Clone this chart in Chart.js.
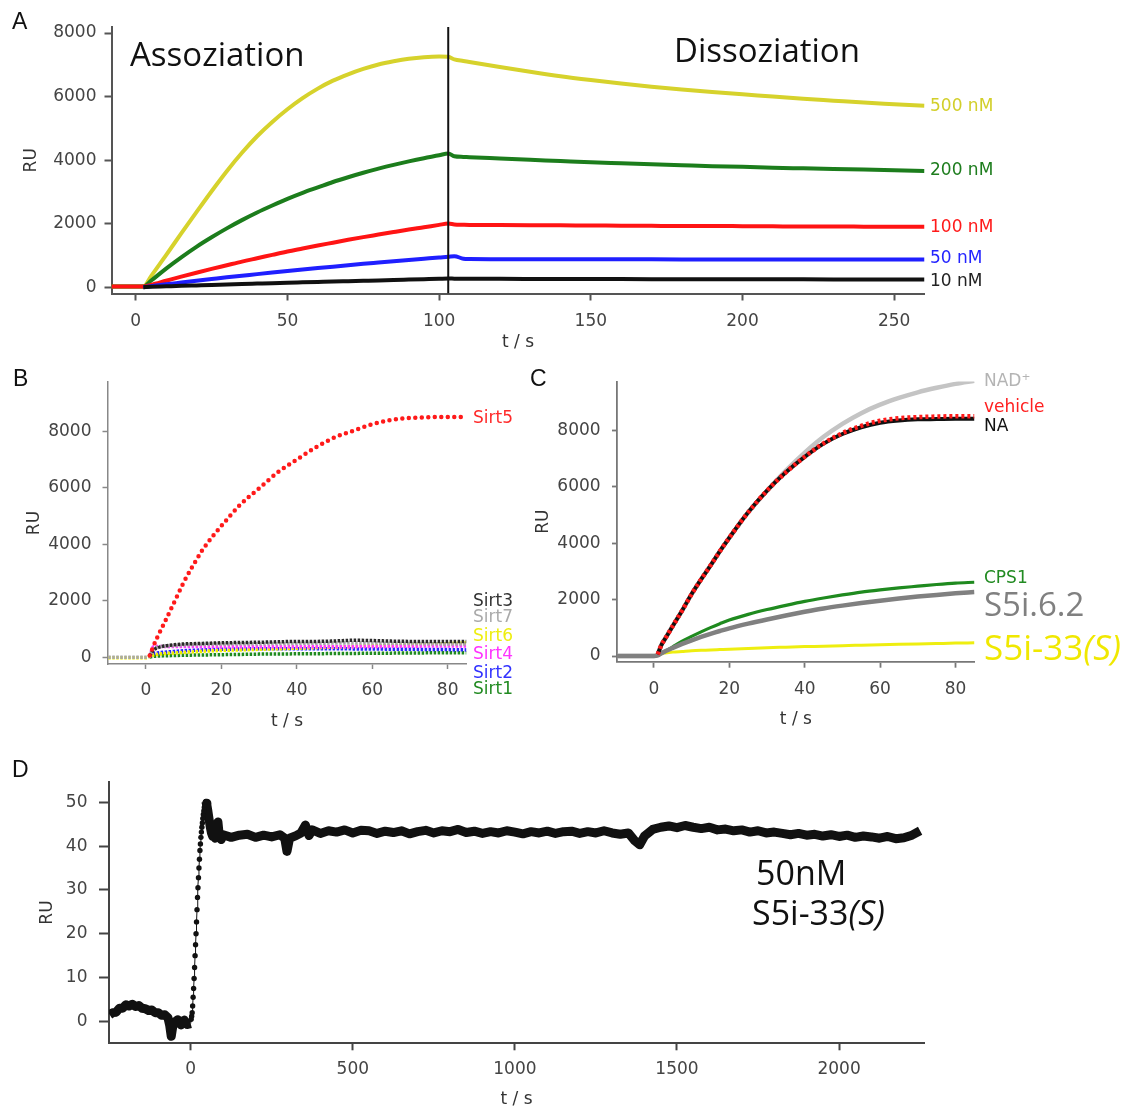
<!DOCTYPE html>
<html><head><meta charset="utf-8">
<script src="https://cdn.jsdelivr.net/npm/chart.js@4.4.1/dist/chart.umd.min.js"></script>
<style>
html,body{margin:0;padding:0;background:#fff;}
body{width:1129px;height:1110px;position:relative;overflow:hidden;}
canvas{position:absolute;}
.t{position:absolute;white-space:nowrap;line-height:1;}
.sm{font-family:"DejaVu Sans",sans-serif;font-size:17px;}
.big{font-family:"Open Sans",sans-serif;color:#111;}
.pl{font-family:"Liberation Sans",Arial,sans-serif;font-size:23px;color:#111;}
</style></head><body>
<canvas id="cA" width="1129" height="360" style="left:0;top:0"></canvas>
<canvas id="cB" width="530" height="380" style="left:0;top:360px"></canvas>
<canvas id="cC" width="599" height="380" style="left:530px;top:360px"></canvas>
<canvas id="cD" width="1129" height="350" style="left:0;top:760px"></canvas>

<div class="t pl" style="left:12px;top:10px">A</div>
<div class="t pl" style="left:13px;top:367px">B</div>
<div class="t pl" style="left:530px;top:367px">C</div>
<div class="t pl" style="left:12px;top:758px">D</div>

<div class="t big" style="left:130px;top:37px;font-size:33px">Assoziation</div>
<div class="t big" style="left:674px;top:33px;font-size:33px">Dissoziation</div>
<div class="t sm" style="left:930px;top:97px;color:#d2cf2a">500 nM</div>
<div class="t sm" style="left:930px;top:161px;color:#1e7d1e">200 nM</div>
<div class="t sm" style="left:930px;top:218px;color:#ff1a1a">100 nM</div>
<div class="t sm" style="left:930px;top:249px;color:#2424ff">50 nM</div>
<div class="t sm" style="left:930px;top:272px;color:#222">10 nM</div>

<div class="t sm" style="left:473px;top:409px;color:#ff2a2a">Sirt5</div>
<div class="t sm" style="left:473px;top:592px;color:#333">Sirt3</div>
<div class="t sm" style="left:473px;top:608px;color:#aaa">Sirt7</div>
<div class="t sm" style="left:473px;top:627px;color:#eeee10">Sirt6</div>
<div class="t sm" style="left:473px;top:645px;color:#ff33ff">Sirt4</div>
<div class="t sm" style="left:473px;top:664px;color:#3333ff">Sirt2</div>
<div class="t sm" style="left:473px;top:680px;color:#228b22">Sirt1</div>

<div class="t sm" style="left:984px;top:372px;color:#b4b4b4">NAD⁺</div>
<div class="t sm" style="left:984px;top:398px;color:#ff2020">vehicle</div>
<div class="t sm" style="left:984px;top:417px;color:#111">NA</div>
<div class="t sm" style="left:984px;top:569px;color:#228b22">CPS1</div>
<div class="t big" style="left:984px;top:587px;font-size:33px;color:#808080">S5i.6.2</div>
<div class="t big" style="left:984px;top:629px;font-size:35px;color:#f0e800">S5i-33<i>(S)</i></div>

<div class="t big" style="left:756px;top:855px;font-size:34px">50nM</div>
<div class="t big" style="left:752px;top:895px;font-size:34px">S5i-33<i>(S)</i></div>

<script>
// ---------- Panel A: association / dissociation ----------
const tA = [-8, 0, 2.5, 5, 10, 15, 20, 25, 30, 35, 40, 45, 50, 55, 60, 65, 70, 75, 80, 85, 90, 95, 100, 103, 105, 108, 110, 120, 130, 140, 150, 160, 170, 180, 190, 200, 210, 220, 230, 240, 250, 260];
const nM500 = [20, 20, 20, 340, 1010, 1690, 2360, 3020, 3650, 4230, 4750, 5200, 5600, 5950, 6250, 6500, 6700, 6870, 7010, 7110, 7190, 7240, 7260, 7250, 7170, 7120, 7090, 6930, 6780, 6640, 6520, 6410, 6310, 6220, 6140, 6070, 6000, 5930, 5870, 5810, 5760, 5710];
const nM200 = [20, 20, 20, 200, 585, 940, 1270, 1570, 1850, 2110, 2350, 2570, 2780, 2970, 3140, 3310, 3460, 3600, 3730, 3850, 3960, 4060, 4150, 4210, 4120, 4100, 4090, 4050, 4010, 3970, 3930, 3900, 3870, 3840, 3810, 3790, 3760, 3740, 3720, 3700, 3680, 3660];
const nM100 = [20, 20, 20, 70, 200, 330, 455, 575, 690, 805, 910, 1015, 1120, 1215, 1310, 1400, 1490, 1575, 1655, 1735, 1815, 1885, 1960, 2000, 1975, 1965, 1960, 1955, 1950, 1945, 1940, 1935, 1930, 1925, 1925, 1920, 1915, 1910, 1910, 1905, 1900, 1900];
const nM50 = [null, null, 0, 30, 90, 145, 200, 255, 310, 360, 410, 460, 510, 555, 600, 645, 690, 735, 775, 815, 855, 895, 935, 955, 975, 895, 885, 880, 880, 880, 878, 876, 875, 874, 873, 872, 872, 871, 870, 870, 870, 870];
const nM10 = [null, null, 0, 9, 25, 41, 55, 69, 84, 98, 111, 124, 138, 151, 164, 177, 189, 201, 213, 226, 238, 250, 262, 270, 268, 266, 265, 262, 260, 258, 256, 254, 252, 250, 249, 248, 246, 245, 244, 243, 242, 240];
const switchA = [103];
const xTicksA = [0, 50, 100, 150, 200, 250];
const yTicksA = [0, 2000, 4000, 6000, 8000];
const xRangeA = [-8, 260], yRangeA = [-200, 8190];

// ---------- Panel B: sirtuin selectivity ----------
const tB = [-10, 0, 1, 2, 3, 5, 7.5, 10, 12.5, 15, 17.5, 20, 25, 30, 35, 40, 45, 50, 55, 60, 65, 70, 75, 80, 85];
const sirt5 = [null, null, 60, 400, 700, 1250, 1950, 2650, 3250, 3800, 4250, 4650, 5400, 5980, 6550, 7000, 7430, 7780, 8020, 8250, 8400, 8470, 8500, 8510, 8510];
const sirt3 = [null, null, 50, 250, 330, 400, 440, 470, 480, 490, 500, 510, 520, 530, 545, 560, 560, 575, 600, 590, 570, 560, 555, 555, 555];
const sirt7 = [0, 0, 50, 300, 350, 400, 420, 440, 450, 460, 465, 470, 475, 480, 485, 490, 495, 500, 500, 500, 495, 490, 480, 470, 470];
const sirt6 = [-20, -20, 30, 80, 100, 130, 150, 170, 190, 210, 225, 240, 260, 280, 300, 320, 340, 360, 380, 400, 420, 440, 460, 480, 500];
const sirt4 = [null, null, 50, 370, 380, 380, 380, 380, 380, 375, 375, 370, 370, 370, 370, 370, 370, 370, 375, 380, 385, 390, 395, 400, 400];
const sirt2 = [null, null, 30, 130, 150, 180, 205, 230, 245, 260, 270, 280, 290, 300, 300, 300, 300, 300, 295, 290, 285, 280, 275, 270, 260];
const sirt1 = [null, null, 10, 30, 40, 50, 60, 70, 75, 80, 85, 90, 100, 110, 115, 120, 125, 130, 135, 140, 145, 150, 155, 160, 160];
const xTicksB = [0, 20, 40, 60, 80];
const yTicksB = [0, 2000, 4000, 6000, 8000];
const xRangeB = [-10.2, 85], yRangeB = [-240, 9745];

// ---------- Panel C: competition ----------
const tC = [-10, 0, 1, 2, 3, 5, 7.5, 10, 12.5, 15, 17.5, 20, 25, 30, 35, 40, 45, 50, 55, 60, 65, 70, 75, 80, 85];
const vehicle = [null, null, 60, 400, 620, 1070, 1620, 2200, 2720, 3210, 3720, 4200, 5100, 5870, 6520, 7070, 7550, 7910, 8170, 8350, 8440, 8480, 8500, 8510, 8510];
const naC = [null, null, 60, 400, 620, 1070, 1620, 2200, 2720, 3210, 3720, 4200, 5100, 5870, 6520, 7070, 7540, 7880, 8120, 8280, 8360, 8400, 8410, 8420, 8420];
const nadC = [0, 0, 60, 400, 620, 1070, 1620, 2200, 2720, 3210, 3720, 4200, 5100, 5870, 6580, 7220, 7780, 8240, 8620, 8920, 9160, 9360, 9520, 9660, 9770];
const cps1 = [null, null, 20, 100, 170, 330, 530, 700, 860, 1010, 1150, 1280, 1480, 1650, 1800, 1940, 2060, 2170, 2270, 2350, 2420, 2480, 2540, 2590, 2620];
const s5i62 = [0, 0, 20, 100, 170, 290, 430, 560, 680, 790, 890, 985, 1150, 1300, 1440, 1570, 1690, 1790, 1880, 1960, 2040, 2110, 2170, 2225, 2275];
const s5i33 = [null, null, 20, 90, 110, 140, 165, 190, 205, 215, 230, 245, 270, 295, 315, 335, 350, 370, 385, 400, 415, 430, 445, 460, 470];
const xTicksC = [0, 20, 40, 60, 80];
const yTicksC = [0, 2000, 4000, 6000, 8000];
const xRangeC = [-9.8, 85.1], yRangeC = [-200, 9740];

// ---------- Panel D: 50 nM S5i-33(S) long run ----------
const tD = [-250, -240, -230, -220, -210, -200, -190, -180, -170, -160, -150, -140, -130, -120, -110, -100, -90, -80, -70, -65, -60, -55, -50, -40, -30, -20, -10,
  0, 1.5, 3, 4.5, 6, 7.5, 9, 10.5, 12, 13.5, 15, 16.5, 18, 19.5, 21, 22.5, 24, 25.5, 27, 28.5, 30, 31.5, 33, 34.5, 36, 37.5, 39, 40.5, 42, 43.5, 45, 46.5, 48,
  50, 53, 56, 60, 64, 68, 72, 76, 80, 84, 88, 94,
  100, 125, 150, 175, 200, 225, 250, 275, 290, 297, 305, 325, 340, 354, 365, 375, 400, 425, 450, 475, 500, 525, 550, 575, 600, 625, 650, 675, 700, 725, 750, 775, 800, 825, 850, 875, 900, 925, 950, 975,
  1000, 1025, 1050, 1075, 1100, 1125, 1150, 1175, 1200, 1225, 1250, 1275, 1300, 1325, 1350, 1370, 1385, 1400, 1425, 1450, 1475, 1500, 1525, 1550, 1575, 1600, 1625, 1650, 1675, 1700, 1725, 1750, 1775, 1800, 1825, 1850, 1875, 1900, 1925, 1950, 1975,
  2000, 2025, 2050, 2075, 2100, 2125, 2150, 2175, 2200, 2225, 2250];
const ruD = [1.5, 2.0, 2.1, 3.0, 3.0, 3.8, 3.5, 3.9, 3.4, 3.6, 3.0, 2.9, 2.5, 2.6, 2.0, 2.0, 1.4, 1.5, 0.8, -0.8, -3.4, -1.0, -0.2, 0.4, -0.8, 0.3, -0.7,
  -0.5, 0.5, 1.2, 2.0, 3.5, 5.5, 7.5, 9.8, 12.3, 15, 17.5, 20, 22.7, 25.5, 28.3, 30.5, 32.8, 35, 37, 39, 40.5, 42, 43.2, 44.3, 45.3, 46.3, 47.2, 48, 48.8, 49.5, 50, 50.2, 49.8,
  49.3, 48, 46.5, 44.5, 43, 42.2, 42.5, 41.8, 43.5, 45.5, 42.5, 41.5,
  42.6, 42.0, 42.5, 42.7, 42.0, 42.5, 42.1, 42.6, 41.8, 38.8, 41.8, 42.4, 43.0, 44.8, 42.4, 43.7, 42.9, 43.5, 43.2, 43.7, 43.0, 43.6, 43.5, 42.9, 43.4, 43.1, 43.5, 42.8, 43.3, 43.6, 43.0, 43.5, 43.3, 43.8, 43.1, 43.4, 42.9, 43.3, 43.0, 43.5,
  43.2, 42.8, 43.3, 43.0, 43.4, 42.9, 43.3, 43.4, 42.9, 43.3, 43.0, 43.5, 43.0, 42.7, 43.0, 41.2, 40.3, 42.3, 43.8, 44.3, 44.6, 44.2, 44.7, 44.3, 44.0, 44.3, 43.7, 43.9, 43.5, 43.7, 43.2, 43.5, 43.0, 43.2, 42.9, 42.6, 42.9, 42.5, 42.7, 42.3, 42.6,
  42.2, 42.5, 42.0, 42.3, 42.1, 41.8, 42.2, 41.7, 41.9, 42.5, 43.5];
const xTicksD = [0, 500, 1000, 1500, 2000];
const yTicksD = [0, 10, 20, 30, 40, 50];
const xRangeD = [-252, 2262], yRangeD = [-5, 54.7];

// ---------- helpers ----------
const TF = '"DejaVu Sans", sans-serif';
function series(t, v, color, width, extra) {
  return Object.assign({
    data: t.map((x, i) => ({ x: x, y: v[i] })),
    borderColor: color, borderWidth: width, pointRadius: 0,
    cubicInterpolationMode: 'monotone', borderJoinStyle: 'round', fill: false
  }, extra || {});
}
function build(id, p) {
  const ax = p.ax;
  new Chart(document.getElementById(id), {
    type: 'line',
    data: { datasets: p.datasets },
    options: {
      responsive: false, animation: false, devicePixelRatio: 1,
      layout: { padding: { left: 0, top: p.padTop, right: p.padRight, bottom: 0 } },
      plugins: { legend: { display: false }, tooltip: { enabled: false } },
      scales: {
        x: {
          type: 'linear', min: p.xRange[0], max: p.xRange[1],
          afterBuildTicks: s => { s.ticks = p.xTicks.map(v => ({ value: v })); },
          afterFit: s => { s.height = p.xH; },
          ticks: { font: { family: TF, size: 17 }, color: '#444', padding: p.xPad, maxRotation: 0, autoSkip: false, callback: v => String(v) },
          grid: { display: true, drawOnChartArea: false, drawTicks: true, tickLength: p.xTl, tickColor: ax.color, tickWidth: ax.width, color: ax.color },
          border: { display: true, color: ax.color, width: ax.width },
          title: { display: true, text: 't / s', font: { family: TF, size: 17 }, color: '#333', padding: { top: 0, bottom: p.xTitlePad } }
        },
        y: {
          type: 'linear', min: p.yRange[0], max: p.yRange[1],
          afterBuildTicks: s => { s.ticks = p.yTicks.map(v => ({ value: v })); },
          afterFit: s => { s.width = p.yW; },
          ticks: { font: { family: TF, size: 17 }, color: '#444', padding: p.yPad, autoSkip: false, callback: v => String(v) },
          grid: { display: true, drawOnChartArea: false, drawTicks: true, tickLength: p.yTl, tickColor: ax.color, tickWidth: ax.width, color: ax.color },
          border: { display: true, color: ax.color, width: ax.width },
          title: { display: true, text: 'RU', font: { family: TF, size: 17 }, color: '#333', padding: { top: p.yTitlePad, bottom: 0 } }
        }
      }
    }
  });
}

// ---------- Panel A ----------
build('cA', {
  ax: { color: '#555', width: 2 },
  padTop: 27, padRight: 204.5, yW: 111.5, xH: 66.5,
  xRange: xRangeA, yRange: yRangeA, xTicks: xTicksA, yTicks: yTicksA,
  xTl: 7, xPad: 11, yTl: 7, yPad: 8, xTitlePad: 6.8, yTitlePad: 21.8,
  datasets: [
    series([switchA[0], switchA[0]], [yRangeA[0], yRangeA[1]], '#111', 2, { cubicInterpolationMode: 'default', tension: 0 }),
    series(tA, nM10, '#111', 4),
    series(tA, nM50, '#1f1fff', 4),
    series(tA, nM100, '#ff1414', 4),
    series(tA, nM200, '#1c7d1c', 4),
    series(tA, nM500, '#d6d22c', 4)
  ]
});

// ---------- Panel B ----------
const dotB = { borderDash: [2.5, 1.5] };
build('cB', {
  ax: { color: '#888', width: 1.5 },
  padTop: 22, padRight: 63.5, yW: 107.5, xH: 76,
  xRange: xRangeB, yRange: yRangeB, xTicks: xTicksB, yTicks: yTicksB,
  xTl: 5, xPad: 11, yTl: 5, yPad: 11, xTitlePad: 8.1, yTitlePad: 24.8,
  datasets: [
    series(tB, sirt5, '#ff1a1a', 4.5, { borderDash: [0, 6.5], borderCapStyle: 'round' }),
    series(tB, sirt3, '#2a2a2a', 3.5, dotB),
    series(tB, sirt7, '#a8a8a8', 3.5, dotB),
    series(tB, sirt4, '#ff40ff', 3.5, dotB),
    series(tB, sirt6, '#eeee00', 3.5, dotB),
    series(tB, sirt2, '#2828ff', 3.5, dotB),
    series(tB, sirt1, '#1f8a1f', 3.5, dotB)
  ]
});

// ---------- Panel C ----------
build('cC', {
  ax: { color: '#777', width: 1.8 },
  padTop: 20, padRight: 154.3, yW: 87, xH: 78.3,
  xRange: xRangeC, yRange: yRangeC, xTicks: xTicksC, yTicks: yTicksC,
  xTl: 6, xPad: 12, yTl: 5, yPad: 11.4, xTitlePad: 9.8, yTitlePad: 3.2,
  datasets: [
    series(tC, vehicle, '#ff1a1a', 4.5, { borderDash: [3, 3] }),
    series(tC, naC, '#111', 4),
    series(tC, s5i62, '#808080', 4.5),
    series(tC, cps1, '#1f8a1f', 3.2),
    series(tC, s5i33, '#eeee10', 3),
    series(tC, nadC, '#c4c4c4', 4.5)
  ]
});

// ---------- Panel D ----------
build('cD', {
  ax: { color: '#444', width: 2 },
  padTop: 16.7, padRight: 205, yW: 109, xH: 66.7,
  xRange: xRangeD, yRange: yRangeD, xTicks: xTicksD, yTicks: yTicksD,
  xTl: 7, xPad: 9.5, yTl: 10, yPad: 11.5, xTitlePad: 0, yTitlePad: 37.8,
  datasets: [
    series(tD, ruD, '#111', 9, {
      cubicInterpolationMode: 'default', tension: 0,
      pointRadius: c => (c.raw && c.raw.x > 0 && c.raw.x < 48) ? 2.7 : 0,
      pointBackgroundColor: '#111', pointBorderWidth: 0,
      segment: { borderWidth: c => (c.p0.parsed.x >= 0 && c.p1.parsed.x <= 46.5) ? 1 : 9 }
    })
  ]
});
</script>
</body></html>
